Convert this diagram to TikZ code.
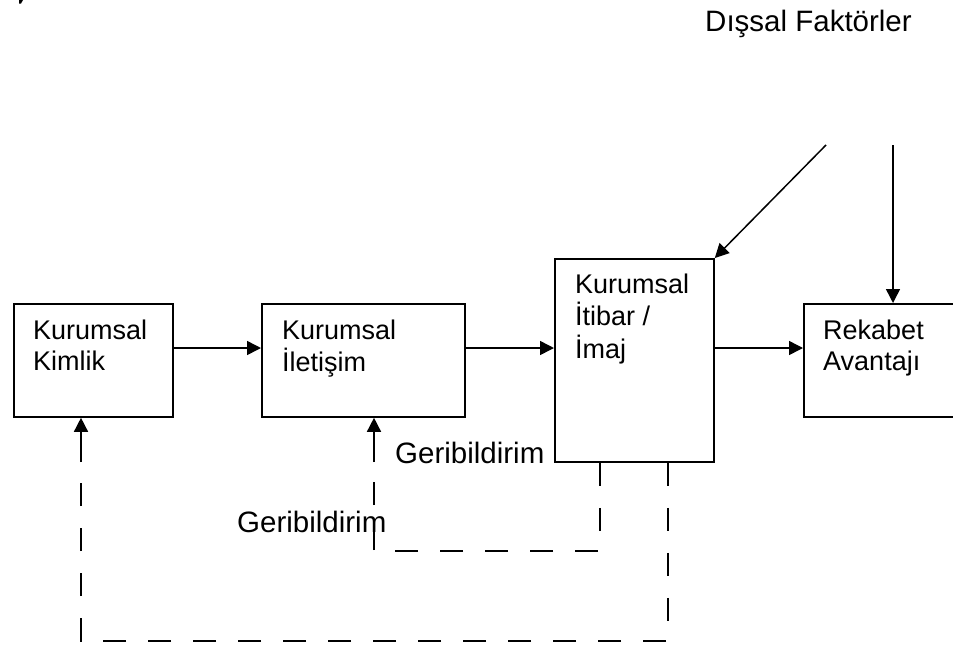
\documentclass[tikz,border=0pt]{standalone}
\usepackage{fontspec}
\setmainfont{Liberation Sans}
\usetikzlibrary{arrows.meta}
\begin{document}
\begin{tikzpicture}[x=1pt,y=-1pt,
  box/.style={draw, line width=1.8pt, rectangle, inner sep=0pt, anchor=north west},
  txt/.style={inner sep=0pt, anchor=base west,
    font=\fontsize{27}{31}\selectfont},
  lbl/.style={inner sep=0pt, anchor=base west,
    font=\fontsize{29.5}{34}\selectfont},
  arr/.style={line width=1.5pt, -{Triangle[length=14pt,width=14pt]}},
  fb/.style={line width=1.8pt, dash pattern=on 23pt off 22pt}]
\useasboundingbox (0,0) rectangle (953,646);
\clip (0,0) rectangle (953,646);
\fill[white] (0,0) rectangle (953,646);

% stray mark in the corner
\fill (19,0) -- (23,0) -- (21,3.5) -- (19,3.5) -- cycle;

% boxes
\node[box, minimum width=159pt, minimum height=113pt] (kimlik) at (13,303) {};
\node[box, minimum width=203pt, minimum height=113pt] (iletisim) at (261,303) {};
\node[box, minimum width=159pt, minimum height=203pt] (itibar) at (554,258) {};
\node[box, minimum width=170pt, minimum height=113pt] (rekabet) at (803,303) {};

% box texts
\node[txt] (kimlikT) at (33,339) {\begin{tabular}[t]{@{}l@{}}Kurumsal\\Kimlik\end{tabular}};
\node[txt] (iletisimT) at (282,339) {\begin{tabular}[t]{@{}l@{}}Kurumsal\\İletişim\end{tabular}};
\node[txt] (itibarT) at (575,293) {\begin{tabular}[t]{@{}l@{}}Kurumsal\\İtibar /\\İmaj\end{tabular}};
\node[txt] (rekabetT) at (823,339) {\begin{tabular}[t]{@{}l@{}}Rekabet\\Avantajı\end{tabular}};

% labels
\node[lbl] (dissal) at (705,31) {Dışsal Faktörler};
\node[lbl] (geri1) at (395,463) {Geribildirim};
\node[lbl] (geri2) at (237,532) {Geribildirim};

% main flow
\coordinate (flow) at (0,348);
\draw[arr] (kimlik.east |- flow) -- (iletisim.west |- flow);
\draw[arr] (iletisim.east |- flow) -- (itibar.west |- flow);
\draw[arr] (itibar.east |- flow) -- (rekabet.west |- flow);

% external factors
\coordinate (dsA) at (826,145);
\coordinate (dsB) at (893,145);
\draw[arr] (dsA) -- (itibar.north east);
\draw[arr] (dsB) -- (dsB |- rekabet.north);

% inner feedback loop
\coordinate (inA) at (600,551);
\coordinate (inB) at (374,551);
\coordinate (inC) at (374,462);
\draw[fb] (itibar.south -| inA) -- (inA) -- (inB) -- (inC);
\draw[arr] (inC) -- (iletisim.south -| inC);

% outer feedback loop
\coordinate (outA) at (668,641);
\coordinate (outB) at (81,641);
\coordinate (outC) at (81,462);
\draw[fb] (itibar.south -| outA) -- (outA) -- (outB) -- (outC);
\draw[arr] (outC) -- (kimlik.south -| outC);
\end{tikzpicture}
\end{document}
